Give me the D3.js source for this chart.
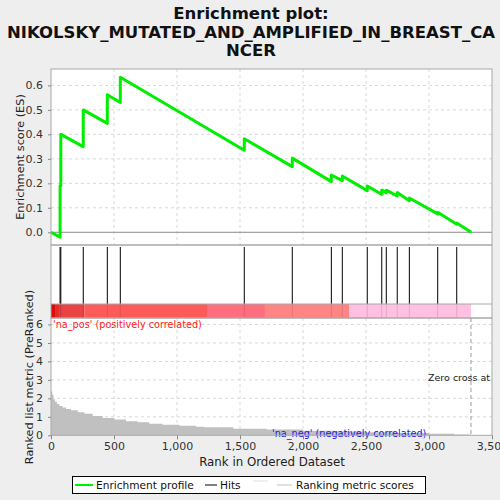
<!DOCTYPE html>
<html lang="en">
<head>
    <meta charset="UTF-8">
    <title>Enrichment plot</title>
    <script src="https://d3js.org/d3.v7.min.js"></script>
    <style>
        body {
            margin: 0;
            background-color: #eeeeee;
            font-family: "DejaVu Sans", sans-serif;
        }
    </style>
</head>
<body>
    <div id="chart"></div>

    <script>
        // hit positions in the ranked list
        const hitRanks = [72, 78, 256, 447, 550, 1534, 1915, 2225, 2312, 2510, 2625, 2661, 2748, 2844, 3069, 3220];
        // running enrichment score, value just before / just after each hit
        const esBefore = [-0.02, 0.19, 0.35, 0.445, 0.53, 0.335, 0.268, 0.207, 0.211, 0.170, 0.155, 0.162, 0.148, 0.129, 0.075, 0.033];
        const esAfter  = [0.19, 0.40, 0.50, 0.562, 0.633, 0.382, 0.303, 0.234, 0.230, 0.189, 0.173, 0.172, 0.162, 0.140, 0.082, 0.038];
        const datasetSize = 3335;

        // ranking metric (sampled along the list)
        const metricRanks = [0, 10, 20, 31, 47, 66, 92, 119, 159, 212, 265, 331, 410, 503, 595, 688, 780, 886, 1019, 1151, 1217, 1447, 1712, 2000, 2250, 2500, 2750, 3000, 3200, 3330, 3335];
        const metricValues = [2.37, 2.19, 1.95, 1.82, 1.70, 1.59, 1.50, 1.43, 1.36, 1.25, 1.16, 1.05, 0.94, 0.85, 0.76, 0.70, 0.63, 0.57, 0.52, 0.46, 0.44, 0.36, 0.31, 0.25, 0.20, 0.16, 0.12, 0.08, 0.04, 0.0, -0.03];
        const zeroCross = 3333;

        // colour bar bands
        const bandStarts = [0, 32, 70, 264, 1238, 1698, 2365];
        const bandEnds   = [32, 70, 264, 1238, 1698, 2365, 3333];
        const bandColors = ["#dd0a0a", "#e42a2a", "#e94343", "#ff5a5a", "#ff6e7e", "#ff8585", "#ffc0e2"];

        const esTicks = [0.0, 0.1, 0.2, 0.3, 0.4, 0.5, 0.6];
        const metricTicks = [0, 1, 2, 3, 4, 5, 6];
        const rankTicks = [0, 500, 1000, 1500, 2000, 2500, 3000, 3500];

        const width = 500, height = 500;
        const left = 51, right = 492;
        const topY = 69, esBottom = 245, barTop = 304, barBottom = 318, metricBottom = 435.3;

        const svg = d3.select("#chart")
            .append("svg")
            .attr("width", width)
            .attr("height", height);

        svg.append("rect").attr("width", width).attr("height", height).attr("fill", "#eeeeee");

        const x = d3.scaleLinear().domain([0, 3500]).range([left, right]);
        const yES = d3.scaleLinear().domain([-0.052, 0.667]).range([esBottom, topY]);
        const yM = d3.scaleLinear().domain([0, 6.35]).range([metricBottom, barBottom]);

        // title
        const titleLines = ["Enrichment plot:", "NIKOLSKY_MUTATED_AND_AMPLIFIED_IN_BREAST_CA", "NCER"];
        svg.append("g")
            .selectAll("text")
            .data(titleLines)
            .join("text")
            .attr("x", 251)
            .attr("y", (d, i) => 19 + i * 18.5)
            .attr("text-anchor", "middle")
            .attr("font-size", "16.5px")
            .attr("font-weight", "bold")
            .attr("fill", "#111")
            .text(d => d);

        // panel backgrounds
        svg.append("rect").attr("x", left).attr("y", topY).attr("width", right - left).attr("height", metricBottom - topY)
            .attr("fill", "white");

        const defs = svg.append("defs");
        defs.append("clipPath").attr("id", "clip-top")
            .append("rect").attr("x", left).attr("y", topY).attr("width", right - left).attr("height", esBottom - topY);
        defs.append("clipPath").attr("id", "clip-bottom")
            .append("rect").attr("x", left).attr("y", barBottom).attr("width", right - left).attr("height", metricBottom - barBottom);

        // grid lines
        const grid = svg.append("g")
            .attr("stroke", "#d8d8d8")
            .attr("stroke-dasharray", "3,3")
            .attr("stroke-width", 1);
        grid.selectAll(".vtop").data(rankTicks.slice(1, -1)).join("line")
            .attr("x1", d => x(d)).attr("x2", d => x(d)).attr("y1", topY).attr("y2", esBottom);
        grid.selectAll(".vbot").data(rankTicks.slice(1, -1)).join("line")
            .attr("class", "vbot")
            .attr("x1", d => x(d)).attr("x2", d => x(d)).attr("y1", barBottom).attr("y2", metricBottom);
        grid.selectAll(".htop").data(esTicks.slice(1)).join("line")
            .attr("class", "htop")
            .attr("x1", left).attr("x2", right).attr("y1", d => yES(d)).attr("y2", d => yES(d));
        grid.selectAll(".hbot").data(metricTicks.slice(1)).join("line")
            .attr("class", "hbot")
            .attr("x1", left).attr("x2", right).attr("y1", d => yM(d)).attr("y2", d => yM(d));

        // zero line in ES panel
        svg.append("line")
            .attr("x1", left).attr("x2", right)
            .attr("y1", yES(0)).attr("y2", yES(0))
            .attr("stroke", "#8a8a8a").attr("stroke-width", 1);

        // ranking metric area
        const metricPts = metricRanks.map((r, i) => [r, metricValues[i]]);
        svg.append("path")
            .datum(metricPts)
            .attr("clip-path", "url(#clip-bottom)")
            .attr("fill", "#c0c0c0")
            .attr("d", d3.area()
                .curve(d3.curveStepAfter)
                .x(d => x(d[0]))
                .y0(yM(0))
                .y1(d => yM(d[1])));

        // zero cross marker
        svg.append("line")
            .attr("x1", x(zeroCross)).attr("x2", x(zeroCross))
            .attr("y1", barBottom).attr("y2", metricBottom)
            .attr("stroke", "#999").attr("stroke-dasharray", "4,3");

        // the reference cuts this label at the panel edge
        svg.append("text")
            .attr("clip-path", "url(#clip-bottom)")
            .attr("x", 428).attr("y", 381)
            .attr("font-size", "9.5px")
            .attr("fill", "#222")
            .text("Zero cross at " + zeroCross);

        svg.append("text")
            .attr("x", 53).attr("y", 328)
            .attr("font-size", "9.7px")
            .attr("fill", "#ff2020")
            .text("'na_pos' (positively correlated)");

        svg.append("text")
            .attr("x", 272).attr("y", 436.5)
            .attr("font-size", "9.7px")
            .attr("fill", "#2020ee")
            .text("'na_neg' (negatively correlated)");

        // colour bar
        svg.append("g")
            .selectAll("rect")
            .data(bandStarts)
            .join("rect")
            .attr("x", d => x(d))
            .attr("width", (d, i) => x(bandEnds[i]) - x(d))
            .attr("y", barTop)
            .attr("height", barBottom - barTop)
            .attr("fill", (d, i) => bandColors[i]);

        // hits
        svg.append("g")
            .selectAll("line")
            .data(hitRanks)
            .join("line")
            .attr("x1", d => x(d)).attr("x2", d => x(d))
            .attr("y1", esBottom + 2).attr("y2", barTop)
            .attr("stroke", "black").attr("stroke-width", 1);
        svg.append("g")
            .selectAll("line")
            .data(hitRanks)
            .join("line")
            .attr("x1", d => x(d)).attr("x2", d => x(d))
            .attr("y1", barTop).attr("y2", barBottom)
            .attr("stroke", "black").attr("stroke-opacity", 0.12).attr("stroke-width", 1);

        // enrichment profile
        const esPts = [[0, 0]];
        hitRanks.forEach((r, i) => {
            esPts.push([r, esBefore[i]]);
            esPts.push([r, esAfter[i]]);
        });
        esPts.push([datasetSize, 0]);
        svg.append("path")
            .datum(esPts)
            .attr("clip-path", "url(#clip-top)")
            .attr("fill", "none")
            .attr("stroke", "#00ee00")
            .attr("stroke-width", 3)
            .attr("stroke-linejoin", "round")
            .attr("d", d3.line().x(d => x(d[0])).y(d => yES(d[1])));

        // panel frames
        const frame = svg.append("g").attr("fill", "none").attr("stroke", "#a8a8a8").attr("stroke-width", 1);
        frame.append("rect").attr("x", left).attr("y", topY).attr("width", right - left).attr("height", esBottom - topY);
        frame.append("rect").attr("x", left).attr("y", esBottom).attr("width", right - left).attr("height", barBottom - esBottom);
        frame.append("line").attr("x1", left).attr("x2", right).attr("y1", barTop).attr("y2", barTop);
        frame.append("rect").attr("x", left).attr("y", barBottom).attr("width", right - left).attr("height", metricBottom - barBottom);

        // axes
        const styleAxis = g => {
            g.select(".domain").remove();
            g.selectAll(".tick line").attr("stroke", "#888");
            g.selectAll(".tick text").attr("fill", "#333").attr("font-size", "11px")
                .attr("font-family", "DejaVu Sans, sans-serif");
        };

        svg.append("g")
            .attr("transform", `translate(${left},0)`)
            .call(d3.axisLeft(yES).tickValues(esTicks).tickFormat(d3.format(".1f")).tickSize(3).tickPadding(5))
            .call(styleAxis);

        svg.append("g")
            .attr("transform", `translate(${left},0)`)
            .call(d3.axisLeft(yM).tickValues(metricTicks).tickFormat(d3.format("d")).tickSize(3).tickPadding(5))
            .call(styleAxis);

        svg.append("g")
            .attr("transform", `translate(0,${metricBottom})`)
            .call(d3.axisBottom(x).tickValues(rankTicks).tickFormat(d3.format(",")).tickSize(4).tickPadding(3))
            .call(styleAxis);

        // axis titles
        svg.append("text")
            .attr("transform", "translate(24,157) rotate(-90)")
            .attr("text-anchor", "middle")
            .attr("font-size", "11.3px")
            .attr("fill", "#222")
            .text("Enrichment score (ES)");

        svg.append("text")
            .attr("transform", "translate(33,377) rotate(-90)")
            .attr("text-anchor", "middle")
            .attr("font-size", "11.3px")
            .attr("fill", "#222")
            .text("Ranked list metric (PreRanked)");

        svg.append("text")
            .attr("x", 272).attr("y", 466)
            .attr("text-anchor", "middle")
            .attr("font-size", "11.8px")
            .attr("fill", "#222")
            .text("Rank in Ordered Dataset");

        // legend
        const legend = svg.append("g");
        legend.append("rect")
            .attr("x", 72.5).attr("y", 476.5).attr("width", 353).attr("height", 17)
            .attr("fill", "white").attr("stroke", "black");
        const legendItems = [
            {x1: 75, x2: 93, y: 485, color: "#00ee00", w: 2, label: "Enrichment profile", tx: 96},
            {x1: 205, x2: 217, y: 485, color: "black", w: 1, label: "Hits", tx: 220},
            {x1: 253, x2: 268, y: 481, color: "#e0e0e0", w: 1, label: "", tx: 0},
            {x1: 277, x2: 292, y: 485, color: "#c0c0c0", w: 1, label: "Ranking metric scores", tx: 296}
        ];
        legend.selectAll("line").data(legendItems).join("line")
            .attr("x1", d => d.x1).attr("x2", d => d.x2)
            .attr("y1", d => d.y).attr("y2", d => d.y)
            .attr("stroke", d => d.color).attr("stroke-width", d => d.w);
        legend.selectAll("text").data(legendItems.filter(d => d.label)).join("text")
            .attr("x", d => d.tx).attr("y", 489)
            .attr("font-size", "10.6px")
            .attr("fill", "#111")
            .text(d => d.label);
    </script>
</body>
</html>
